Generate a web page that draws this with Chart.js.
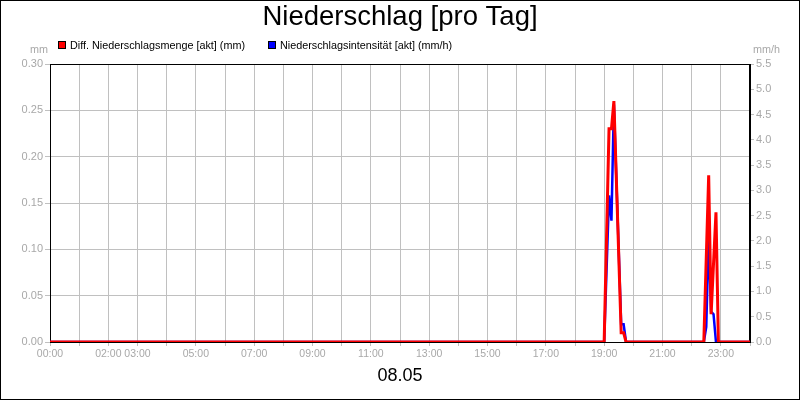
<!DOCTYPE html>
<html>
<head>
<meta charset="utf-8">
<title>Niederschlag [pro Tag]</title>
<script src="https://cdn.jsdelivr.net/npm/chart.js@4.4.0/dist/chart.umd.min.js"></script>
<style>
html, body { margin: 0; padding: 0; background: #fff; }
#wrap { position: relative; width: 800px; height: 400px; }
</style>
</head>
<body>
<div id="wrap"><canvas id="chart"></canvas></div>
<script>
const chartTitle = 'Niederschlag [pro Tag]';
const dayLabel = '08.05';
const seriesNames = ['Diff. Niederschlagsmenge [akt] (mm)', 'Niederschlagsintensität [akt] (mm/h)'];
const unitLeft = 'mm';
const unitRight = 'mm/h';

// sample times, null = no vertex for that series at this time
const times = ['00:00', '19:00', '19:10', '19:15', '19:20', '19:35', '19:40', '19:45',
	'22:25', '22:30', '22:35', '22:40', '22:45', '22:50', '22:55', '24:00'];
const mengeMm = [0, 0, 0.23, 0.23, 0.26, 0.01, 0.01, 0,
	0, null, 0.18, 0.03, null, 0.14, 0, 0];
const intensitaetMmH = [0, 0, 2.9, 2.4, 4.7, 0.35, 0.35, 0,
	0, 0.3, 2.1, 0.6, 0.55, 0, 0, 0];
const labelHours = [0, 2, 3, 5, 7, 9, 11, 13, 15, 17, 19, 21, 23];

const FONT = 'Arial, "Liberation Sans", sans-serif';
const GRID = '#c0c0c0';
const TICK_TEXT = '#a8a8a8';

const hours = t => {
	const [h, m] = t.split(':').map(Number);
	return h + m / 60;
};
const points = vals => times.map((t, i) => ({ x: hours(t), y: vals[i] }));

const overlay = {
	id: 'overlay',
	beforeDatasetsDraw(chart) {
		const { ctx, chartArea: a } = chart;
		ctx.save();
		ctx.strokeStyle = '#000';
		ctx.lineWidth = 1;
		ctx.strokeRect(Math.round(a.left) + 0.5, Math.round(a.top) + 0.5,
			Math.round(a.right - a.left) - 1, Math.round(a.bottom - a.top));
		ctx.restore();
	},
	afterDraw(chart) {
		const { ctx, chartArea: a } = chart;
		ctx.save();
		ctx.lineWidth = 1;
		ctx.strokeStyle = '#000';
		ctx.strokeRect(0.5, 0.5, chart.width - 1, chart.height - 1);
		ctx.font = '10.8px ' + FONT;
		ctx.fillStyle = TICK_TEXT;
		ctx.textAlign = 'right';
		ctx.fillText(unitLeft, a.left - 2, 53);
		ctx.textAlign = 'left';
		ctx.fillText(unitRight, a.right + 3, 53);
		const legendX = [58, 268];
		chart.data.datasets.forEach((ds, i) => {
			const x = legendX[i];
			ctx.fillStyle = ds.borderColor;
			ctx.fillRect(x, 41, 8, 8);
			ctx.strokeStyle = '#000';
			ctx.strokeRect(x + 0.5, 41.5, 7, 7);
			ctx.fillStyle = '#000';
			ctx.fillText(ds.label, x + 12, 48.5);
		});
		ctx.restore();
	}
};

new Chart(document.getElementById('chart'), {
	type: 'line',
	data: {
		datasets: [{
			label: seriesNames[0],
			data: points(mengeMm),
			borderColor: '#ff0000',
			backgroundColor: '#ff0000',
			borderWidth: 3,
			yAxisID: 'y'
		}, {
			label: seriesNames[1],
			data: points(intensitaetMmH),
			borderColor: '#0000ff',
			backgroundColor: '#0000ff',
			borderWidth: 2.5,
			yAxisID: 'y1'
		}]
	},
	options: {
		responsive: true,
		maintainAspectRatio: false,
		animation: false,
		spanGaps: true,
		elements: {
			point: { radius: 0 },
			line: { tension: 0 }
		},
		layout: { padding: 0 },
		plugins: {
			legend: { display: false },
			tooltip: { enabled: false },
			title: {
				display: true,
				text: chartTitle,
				color: '#000',
				font: { family: FONT, size: 27.5, weight: 'normal' },
				padding: { top: 1, bottom: 30 }
			}
		},
		scales: {
			x: {
				type: 'linear',
				min: 0,
				max: 24,
				afterBuildTicks: s => {
					s.ticks = [];
					for (let h = 0; h <= 24; h++) s.ticks.push({ value: h });
				},
				afterFit: s => { s.height = 58; },
				ticks: {
					autoSkip: false,
					maxRotation: 0,
					color: TICK_TEXT,
					padding: 2,
					font: { family: FONT, size: 10.5 },
					callback: v => labelHours.includes(v) ? String(v).padStart(2, '0') + ':00' : ''
				},
				grid: { color: GRID, tickColor: GRID, tickLength: 4 },
				border: { color: '#000' },
				title: {
					display: true,
					text: dayLabel,
					color: '#000',
					font: { family: FONT, size: 18 },
					padding: { top: 0, bottom: 13 }
				}
			},
			y: {
				position: 'left',
				min: 0,
				max: 0.3,
				afterFit: s => { s.width = 50; },
				ticks: {
					stepSize: 0.05,
					color: TICK_TEXT,
					padding: 2,
					font: { family: FONT, size: 11 },
					callback: v => v.toFixed(2)
				},
				grid: { color: GRID, tickColor: GRID, tickLength: 5 },
				border: { color: '#000' }
			},
			y1: {
				position: 'right',
				min: 0,
				max: 5.5,
				afterFit: s => { s.width = 50; },
				ticks: {
					stepSize: 0.5,
					color: TICK_TEXT,
					padding: 2,
					font: { family: FONT, size: 11 },
					callback: v => v.toFixed(1)
				},
				grid: { drawOnChartArea: false, color: GRID, tickColor: GRID, tickLength: 4 },
				border: { color: '#000' }
			}
		}
	},
	plugins: [overlay]
});
</script>
</body>
</html>
